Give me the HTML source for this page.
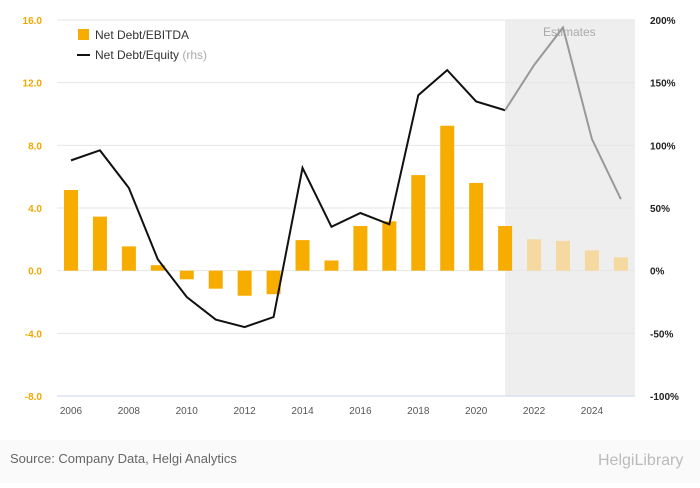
<!DOCTYPE html>
<html><head><meta charset="utf-8"><style>
body{margin:0;background:#fff;font-family:"Liberation Sans",sans-serif;}
svg text{font-family:"Liberation Sans",sans-serif;}
</style></head><body>
<svg id="chart" width="700" height="483">
<rect x="0" y="0" width="700" height="483" fill="#fafafa"/>
<rect x="0" y="0" width="700" height="440" fill="#ffffff"/>
<g id="g"></g>
<text x="10" y="463" font-size="13" fill="#666">Source: Company Data, Helgi Analytics</text>
<text x="598" y="465" font-size="16" fill="#bbb">HelgiLibrary</text>
</svg>
<script>
const years=[2006,2007,2008,2009,2010,2011,2012,2013,2014,2015,2016,2017,2018,2019,2020,2021,2022,2023,2024,2025];
const debtEbitda=[5.15,3.45,1.55,0.35,-0.55,-1.15,-1.6,-1.5,1.95,0.65,2.85,3.15,6.1,9.25,5.6,2.85,2.0,1.9,1.3,0.85];
const debtEquity=[88,96,66,9,-21,-39,-45,-37,82,35,46,37,140,160,135,128,164,194,105,57];
const leftTicks=[-8,-4,0,4,8,12,16];
const rightTicks=[-100,-50,0,50,100,150,200];
const firstEstimate=2021;
const ns="http://www.w3.org/2000/svg";
const g=document.getElementById('g');
const plotTop=20,plotBot=396,x0=71,step=28.94;
const yL=v=>plotBot-(v+8)/24*(plotBot-plotTop);
const yR=v=>plotBot-(v+100)/300*(plotBot-plotTop);
const xC=i=>x0+i*step;
function mk(t,a){const e=document.createElementNS(ns,t);for(const k in a)e.setAttribute(k,a[k]);g.appendChild(e);return e;}
const ei=years.indexOf(firstEstimate);
let sh=mk('rect',{x:xC(ei),y:plotTop,width:635-xC(ei),height:plotBot-plotTop,fill:'#eeeeee'});


let st=mk('text',{x:543,y:36,'font-size':12,fill:'#aaa'});st.textContent='Estimates';


leftTicks.forEach((v,i)=>{
 let l=mk('line',{x1:57,x2:635,y1:yL(v),y2:yL(v),stroke:'#e6e6e6'});
 
 
 let t=mk('text',{x:42,y:yL(v)+4,'font-size':10,'font-weight':'bold',fill:'#f0a800','text-anchor':'end'});t.textContent=v.toFixed(1);
 
 
});
rightTicks.forEach(v=>{
 let t=mk('text',{x:650,y:yR(v)+4,'font-size':10,'font-weight':'bold',fill:'#222'});t.textContent=v+'%';
 
 
});
let ax=mk('line',{x1:57,x2:635,y1:plotBot,y2:plotBot,stroke:'#ccd6eb'});


years.forEach((y,i)=>{
 const v=debtEbitda[i];
 let b=mk('rect',{x:xC(i)-7,y:Math.min(yL(v),yL(0)),width:14,height:Math.abs(yL(v)-yL(0)),fill:y>=firstEstimate+1?'#f5d9a0':'#f7ad00'});
 
 
 if(y%2===0){let t=mk('text',{x:xC(i),y:414,'font-size':10,fill:'#555','text-anchor':'middle'});t.textContent=y;
 
 }
});
const ptsA=[],ptsB=[];
debtEquity.forEach((v,i)=>{const p=xC(i)+','+yR(v);if(i<=ei)ptsA.push(p);if(i>=ei)ptsB.push(p);});
let la=mk('polyline',{points:ptsA.join(' '),fill:'none',stroke:'#111','stroke-width':2});


let lb=mk('polyline',{points:ptsB.join(' '),fill:'none',stroke:'#999','stroke-width':2});


let s1=mk('rect',{x:78,y:29,width:11,height:11,fill:'#f7ad00'});


let t1=mk('text',{x:95,y:39,'font-size':12,fill:'#333'});t1.textContent='Net Debt/EBITDA';


let s2=mk('line',{x1:77,x2:90,y1:55,y2:55,stroke:'#111','stroke-width':2});


let t2=mk('text',{x:95,y:59,'font-size':12,fill:'#333'});t2.innerHTML='Net Debt/Equity <tspan fill="#aaa">(rhs)</tspan>';


</script>
</body></html>
